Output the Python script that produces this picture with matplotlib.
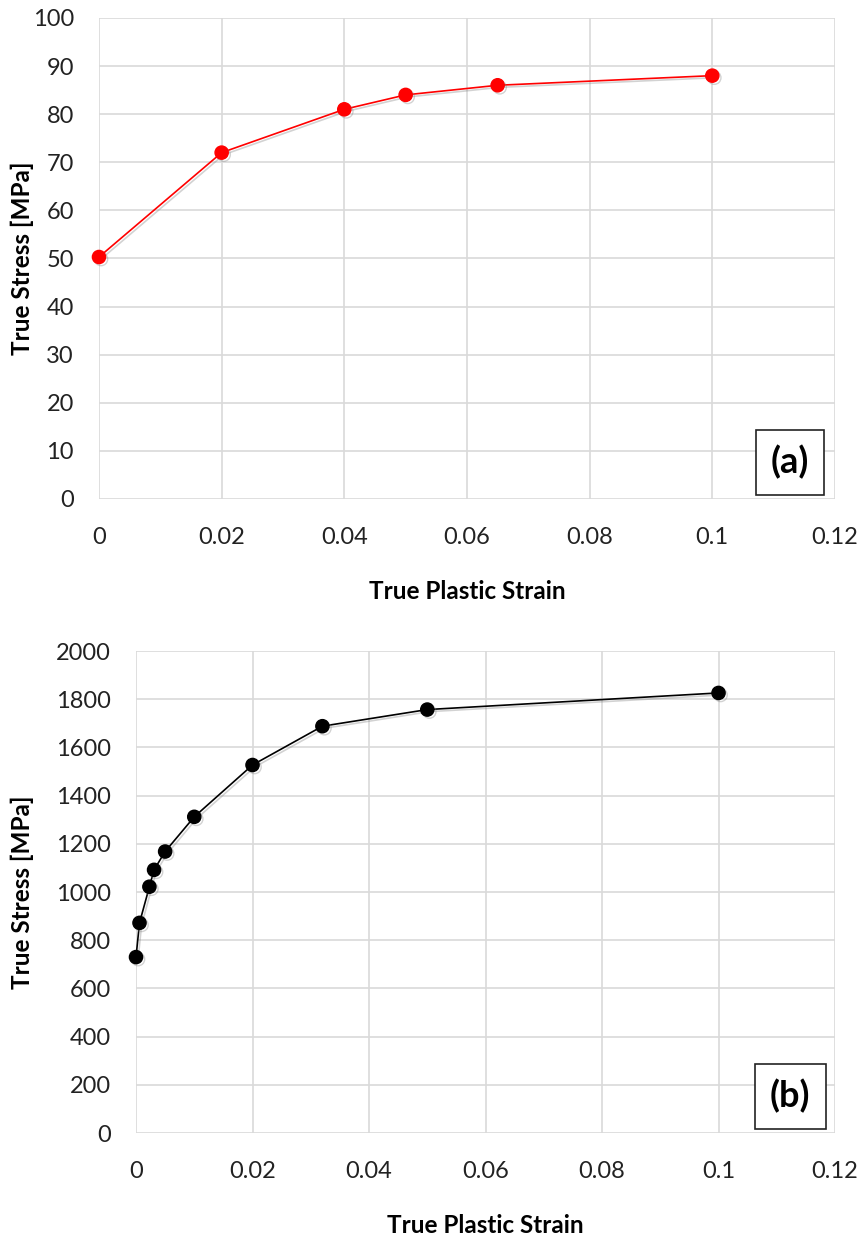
import matplotlib
matplotlib.use("Agg")
import matplotlib.pyplot as plt
import matplotlib.patheffects as pe
from matplotlib.ticker import FuncFormatter

# (a) data
strain_a = [0.0, 0.02, 0.04, 0.05, 0.065, 0.1]
stress_a = [50.3, 72, 81, 84, 86, 88]

# (b) data
strain_b = [0.0, 0.0006, 0.0023, 0.0031, 0.005, 0.01, 0.02, 0.032, 0.05, 0.1]
stress_b = [730, 872, 1022, 1092, 1168, 1312, 1527, 1688, 1757, 1826]

x_ticks = [0, 0.02, 0.04, 0.06, 0.08, 0.1, 0.12]
y_ticks_a = list(range(0, 101, 10))
y_ticks_b = list(range(0, 2001, 200))

plt.rcParams["font.family"] = ["Lato", "DejaVu Sans"]

fig = plt.figure(figsize=(8.63, 12.36), dpi=100)
ax_a = fig.add_axes([0.1147, 0.5963, 0.8528, 0.3892])
ax_b = fig.add_axes([0.1576, 0.0833, 0.8100, 0.3900])

shadow = [pe.SimpleLineShadow(offset=(1.5, -1.5), shadow_color="gray", alpha=0.35), pe.Normal()]


def style(ax, yticks, ymax, tag, ylab_x, tag_x):
    ax.set_xlim(0, 0.12)
    ax.set_ylim(0, ymax)
    ax.set_xticks(x_ticks)
    ax.set_yticks(yticks)
    ax.xaxis.set_major_formatter(FuncFormatter(lambda v, p: "%g" % round(v, 4)))
    ax.grid(True, color="#d9d9d9", linewidth=1.2)
    ax.set_axisbelow(True)
    for s in ax.spines.values():
        s.set_visible(False)
    ax.tick_params(length=0, labelsize=17, colors="#222222")
    ax.tick_params(axis="x", pad=20)
    ax.tick_params(axis="y", pad=18)
    ax.set_xlabel("True Plastic Strain", fontsize=17.5, fontweight="bold", labelpad=23)
    ax.set_ylabel("True Stress [MPa]", fontsize=17.5, fontweight="bold")
    ax.yaxis.set_label_coords(ylab_x, 0.5)
    ax.text(tag_x, 0.076, tag, transform=ax.transAxes, ha="center", va="center",
            fontsize=26, fontweight="bold",
            bbox=dict(boxstyle="square,pad=0.42", facecolor="white", edgecolor="#222222", linewidth=1.2))


ax_a.plot(strain_a, stress_a, color="red", linewidth=1.2, marker="o", markersize=9.5,
          clip_on=False, zorder=3, path_effects=shadow)
style(ax_a, y_ticks_a, 100, "(a)", -0.088, 0.939)

ax_b.plot(strain_b, stress_b, color="black", linewidth=1.2, marker="o", markersize=9.5,
          clip_on=False, zorder=3, path_effects=shadow)
style(ax_b, y_ticks_b, 2000, "(b)", -0.146, 0.936)

fig.savefig("out.png", dpi=100)
